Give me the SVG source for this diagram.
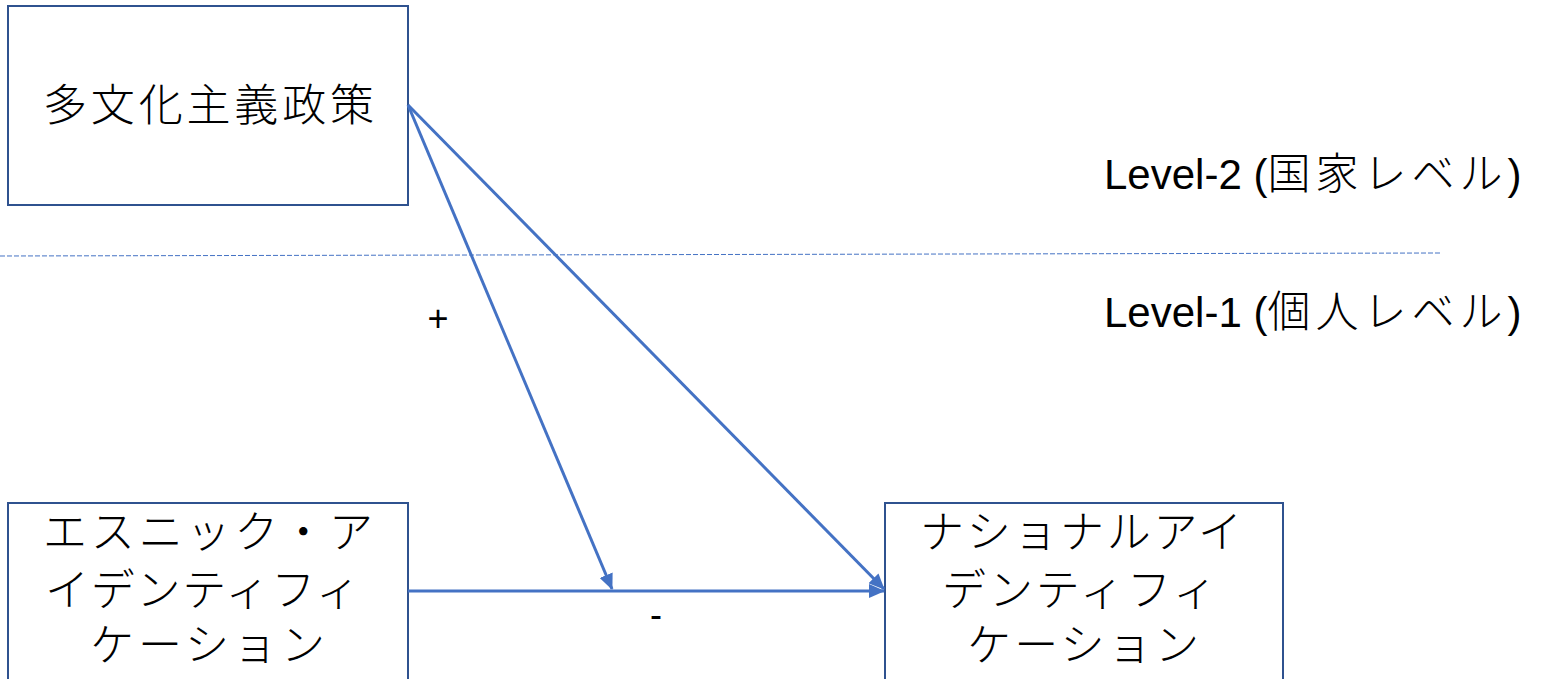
<svg xmlns="http://www.w3.org/2000/svg" width="1542" height="679" viewBox="0 0 1542 679">
<style>
.box{fill:#fff;stroke:#2F528F;stroke-width:2}
.jp{font-family:"Noto Sans CJK JP","Noto Sans CJK SC",sans-serif;font-size:44px;font-weight:300;fill:#000}
.lv{font-family:"Liberation Sans","Noto Sans CJK JP",sans-serif;font-size:42px;fill:#000}
.lvj{font-family:"Noto Sans CJK JP",sans-serif;font-size:43px;letter-spacing:5px;font-weight:300}
.sg{font-family:"Liberation Sans",sans-serif;font-size:36px;fill:#000}
.conn{stroke:#4472C4;stroke-width:3;fill:none}
</style>
<defs>
<marker id="ah" markerUnits="userSpaceOnUse" markerWidth="16" markerHeight="14" refX="15" refY="7" orient="auto">
<path d="M0,0 L16,7 L0,14 Z" fill="#4472C4"/>
</marker>
</defs>
<line x1="0" y1="256" x2="1440" y2="253" stroke="#4472C4" stroke-width="1" stroke-dasharray="5,2"/>
<g id="node-policy">
<rect class="box" x="8" y="6" width="400" height="199"/>
<text class="jp" x="43" y="121" textLength="331" lengthAdjust="spacing">多文化主義政策</text>
</g>
<g id="node-ethnic">
<rect class="box" x="8" y="503" width="400" height="190"/>
<text class="jp" x="43" y="548" textLength="330" lengthAdjust="spacing">エスニック・ア</text>
<text class="jp" x="45" y="606" textLength="315" lengthAdjust="spacing">イデンティフィ</text>
<text class="jp" x="90" y="661" textLength="235" lengthAdjust="spacing">ケーション</text>
</g>
<g id="node-national">
<rect class="box" x="885" y="503" width="398" height="190"/>
<text class="jp" x="920" y="548" textLength="322" lengthAdjust="spacing">ナショナルアイ</text>
<text class="jp" x="942" y="606" textLength="275" lengthAdjust="spacing">デンティフィ</text>
<text class="jp" x="967" y="661" textLength="232" lengthAdjust="spacing">ケーション</text>
</g>
<g id="label-level2">
<text class="lv" x="1104" y="189">Level-2 (<tspan class="lvj">国家レベル</tspan>)</text>
</g>
<g id="label-level1">
<text class="lv" x="1104" y="327">Level-1 (<tspan class="lvj">個人レベル</tspan>)</text>
</g>
<g id="connectors">
<line class="conn" x1="408" y1="105" x2="612" y2="589" marker-end="url(#ah)"/>
<line class="conn" x1="408" y1="105" x2="884" y2="589" marker-end="url(#ah)"/>
<line class="conn" x1="408" y1="591" x2="884" y2="591" marker-end="url(#ah)"/>
<text class="sg" x="438" y="331" text-anchor="middle">+</text>
<text class="sg" x="656" y="627" text-anchor="middle">-</text>
</g>
</svg>
